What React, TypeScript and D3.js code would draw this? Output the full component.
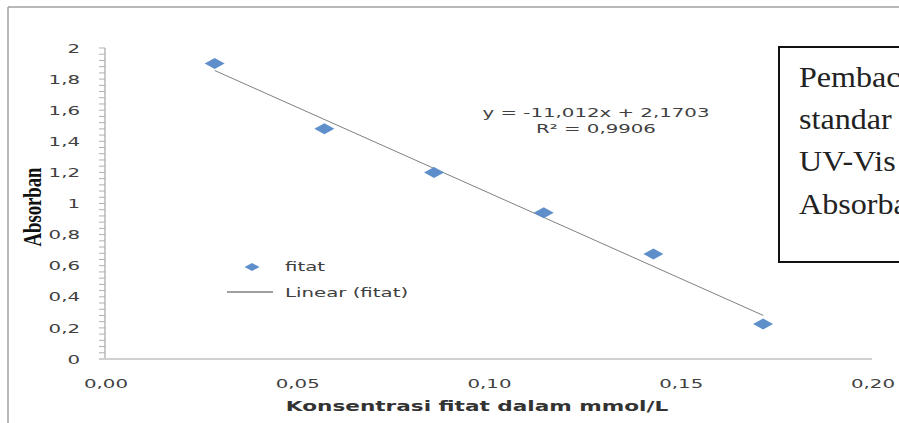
import React from "react";
import * as d3 from "d3";

const concentrations = [0.0286, 0.0572, 0.0858, 0.1144, 0.143, 0.1716];
const absorbances = [1.9, 1.48, 1.2, 0.94, 0.675, 0.225];
const slope = -11.012;
const intercept = 2.1703;
const yTickValues = [0, 0.2, 0.4, 0.6, 0.8, 1, 1.2, 1.4, 1.6, 1.8, 2];
const xTickValues = [0, 0.05, 0.1, 0.15, 0.2];
const equationLines = ["y = -11,012x + 2,1703", "R² = 0,9906"];
const boxLines = ["Pembac", "standar", "UV-Vis", "Absorba"];
const legendLabels = ["fitat", "Linear (fitat)"];

const W = 899;
const H = 423;
const SX = 1.52;
const FONT = "'DejaVu Sans', Verdana, sans-serif";

function SText({ x, y, anchor = "start", size = 13, sx = SX, weight = "normal", fill = "#404040", family = FONT, children }: any) {
  return (
    <text
      transform={`translate(${x},${y}) scale(${sx},1)`}
      textAnchor={anchor}
      dominantBaseline="central"
      fontSize={size}
      fontWeight={weight}
      fill={fill}
      fontFamily={family}
    >
      {children}
    </text>
  );
}

function diamond(cx: number, cy: number, w: number, h: number) {
  return `M${cx - w / 2},${cy} L${cx},${cy - h / 2} L${cx + w / 2},${cy} L${cx},${cy + h / 2} Z`;
}

export default function App() {
  const x = d3.scaleLinear().domain([0, 0.2]).range([105, 872]);
  const y = d3.scaleLinear().domain([0, 2]).range([359, 48]);
  const minorTicks = d3.range(0, 2.0001, 0.04);
  const fmt = (v: number) => d3.format(".2f")(v).replace(".", ",");
  const fmtY = (v: number) => String(+v.toFixed(1)).replace(".", ",");
  const xmin = d3.min(concentrations)!;
  const xmax = d3.max(concentrations)!;
  const line = d3.line<number>().x((d) => x(d)).y((d) => y(slope * d + intercept));
  const markerColor = "#5f8fcb";

  return (
    <svg width={W} height={H} style={{ position: "absolute", left: 0, top: 0, background: "#fff" }}>
      <defs>
        <clipPath id="boxclip">
          <rect x={779} y={47} width={W - 779} height={215} />
        </clipPath>
      </defs>
      <rect x={0} y={0} width={W} height={H} fill="#fff" />
      {/* outer frame */}
      <line x1={8} y1={7} x2={W} y2={7} stroke="#a0a0a0" strokeWidth={1.5} />
      <line x1={8} y1={7} x2={8} y2={H} stroke="#a0a0a0" strokeWidth={1.5} />

      {/* y axis */}
      <line x1={x(0)} y1={y(0)} x2={x(0)} y2={y(2)} stroke="#a6a6a6" strokeWidth={1.2} />
      {minorTicks.map((t, i) => (
        <line key={"m" + i} x1={x(0) - 6} x2={x(0)} y1={y(t)} y2={y(t)} stroke="#b0b0b0" strokeWidth={1} />
      ))}
      {yTickValues.map((t) => (
        <SText key={"y" + t} x={80} y={y(t)} anchor="end">
          {fmtY(t)}
        </SText>
      ))}

      {/* x axis */}
      <line x1={x(0) - 6} y1={y(0)} x2={x(0.2)} y2={y(0)} stroke="#d0d0d0" strokeWidth={2} />
      {xTickValues.map((t) => (
        <SText key={"x" + t} x={x(t) + 1} y={383} anchor="middle">
          {fmt(t)}
        </SText>
      ))}

      {/* axis titles */}
      <SText x={477} y={406} anchor="middle" weight="bold" size={13.5} fill="#333" sx={1.6}>
        Konsentrasi fitat dalam mmol/L
      </SText>
      <text
        transform={`translate(41,207) rotate(-90)`}
        textAnchor="middle"
        fontSize={26}
        fontWeight="bold"
        fontFamily="'Liberation Serif', 'Times New Roman', serif"
        fill="#111"
        textLength={79}
        lengthAdjust="spacingAndGlyphs"
      >
        Absorban
      </text>

      {/* trendline */}
      <path d={line([xmin, xmax]) || ""} fill="none" stroke="#808080" strokeWidth={1} />

      {/* points */}
      {concentrations.map((c, i) => (
        <path key={"p" + i} d={diamond(x(c), y(absorbances[i]), 20, 11)} fill={markerColor} />
      ))}

      {/* equation */}
      <SText x={596} y={112} anchor="middle">
        {equationLines[0]}
      </SText>
      <SText x={596} y={128} anchor="middle">
        {equationLines[1]}
      </SText>

      {/* legend */}
      <path d={diamond(252, 267, 15, 8)} fill={markerColor} />
      <SText x={285} y={266}>{legendLabels[0]}</SText>
      <line x1={227} x2={273} y1={292} y2={292} stroke="#404040" strokeWidth={1} />
      <SText x={285} y={292}>{legendLabels[1]}</SText>

      {/* text box */}
      <rect x={779} y={47} width={200} height={215} fill="#fff" stroke="#111" strokeWidth={2} />
      <g clipPath="url(#boxclip)">
        {boxLines.map((l, i) => (
          <text
            key={"b" + i}
            transform={`translate(799,${87 + i * 42.2}) scale(1.07,1)`}
            fontSize={30}
            fontFamily="'Liberation Serif', 'Times New Roman', serif"
            fill="#222"
          >
            {l}
          </text>
        ))}
      </g>
    </svg>
  );
}
